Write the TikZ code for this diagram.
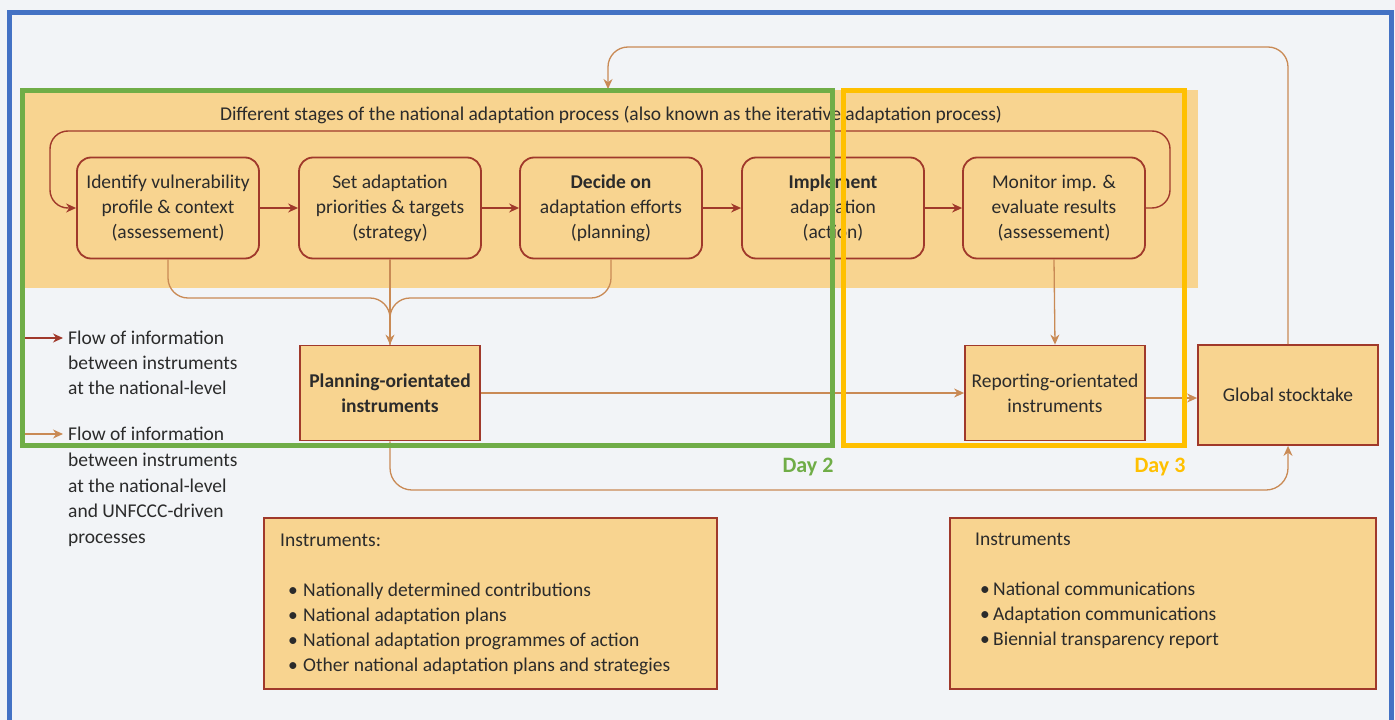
\documentclass[tikz,border=0pt]{standalone}
\usepackage{fontspec}
\setmainfont{Carlito}
\usetikzlibrary{arrows.meta}
\definecolor{bgc}{HTML}{F2F4F7}
\definecolor{band}{HTML}{F8D490}
\definecolor{dred}{HTML}{A0392B}
\definecolor{obr}{HTML}{C98A55}
\definecolor{grn}{HTML}{70AD47}
\definecolor{ylw}{HTML}{FFC000}
\definecolor{blu}{HTML}{4472C4}
\definecolor{txt}{HTML}{2B2B2B}
\newcommand{\fs}{\fontsize{19.5}{25}\selectfont}
\begin{document}
\begin{tikzpicture}[x=1pt,y=-1pt,
  stage/.style={draw=dred, line width=1.8pt, fill=band, rounded corners=14pt,
    minimum width=182pt, minimum height=101pt, align=center, font=\fs, text=txt, inner sep=0pt},
  instr/.style={draw=dred, line width=1.8pt, fill=band, align=center, font=\fs, text=txt, inner sep=0pt},
  redarr/.style={draw=dred, line width=1.4pt, -{Stealth[length=10pt,width=9pt]}},
  brarr/.style={draw=obr, line width=1.3pt, -{Stealth[length=10pt,width=9pt]}},
  brline/.style={draw=obr, line width=1.3pt},
  txtnode/.style={font=\fs, text=txt, align=left, inner sep=0pt, anchor=north west},
  daylab/.style={font=\fontsize{22}{25}\selectfont\bfseries, inner sep=0pt}
]
\useasboundingbox (0,0) rectangle (1395,720);
\fill[bgc] (0,0) rectangle (1395,720);
\draw[blu, line width=5pt] (9,12) rectangle (1391,740);

% orange band
\fill[band] (22,90) rectangle (1198,288);
\node[font=\fs, text=txt, inner sep=0pt] (title) at (611,115) {Different stages of the national adaptation process (also known as the iterative adaptation process)};

% stages
\node[stage] (b1) at (168,208) {Identify vulnerability\\profile \& context\\(assessement)};
\node[stage] (b2) at (390,208) {Set adaptation\\priorities \& targets\\(strategy)};
\node[stage] (b3) at (611,208) {\textbf{Decide on}\\adaptation efforts\\(planning)};
\node[stage] (b4) at (833,208) {\textbf{Implement}\\adaptation\\(action)};
\node[stage] (b5) at (1054,208) {Monitor imp. \&\\evaluate results\\(assessement)};

\draw[redarr] (b1) -- (b2);
\draw[redarr] (b2) -- (b3);
\draw[redarr] (b3) -- (b4);
\draw[redarr] (b4) -- (b5);
\coordinate (l1) at (1170,208);
\coordinate (l2) at (1170,131);
\coordinate (l3) at (50,131);
\coordinate (l4) at (50,208);
\draw[redarr, rounded corners=18pt] (b5.east) -- (l1) -- (l2) -- (l3) -- (l4) -- (b1.west);

% instruments boxes
\node[instr, minimum width=180pt, minimum height=95pt, font=\fs\bfseries] (plan) at (390,393) {Planning-orientated\\instruments};
\node[instr, minimum width=180pt, minimum height=95pt] (rep) at (1055,393) {Reporting-orientated\\instruments};
\node[instr, minimum width=180pt, minimum height=100pt] (glob) at (1288,395) {Global stocktake};

% flows into planning
\coordinate (m) at (390,298);
\draw[brline, rounded corners=20pt] (b1.south) |- (m) -- (plan.north);
\draw[brline, rounded corners=20pt] (b3.south) |- (m) -- (plan.north);
\draw[brarr] (b2.south) -- (plan.north);

\draw[brarr] (b5.south) -- (rep.north);
\draw[brarr] (plan.east) -- (plan.east -| rep.west);
\draw[brarr] (rep.east |- 0,398) -- (glob.west |- 0,398);

\coordinate (p1) at (390,490);
\coordinate (p2) at (1288,490);
\draw[brarr, rounded corners=22pt] (plan.south) -- (p1) -- (p2) -- (glob.south);

\coordinate (t1) at (1288,47);
\coordinate (t2) at (608,47);
\coordinate (gtop) at (608,89);
\draw[brarr, rounded corners=20pt] (glob.north) -- (t1) -- (t2) -- (gtop);

% legend
\coordinate (la1) at (22,338);
\coordinate (la2) at (63,338);
\coordinate (lb1) at (22,434);
\coordinate (lb2) at (63,434);
\draw[redarr, line width=1.1pt] (la1) -- (la2);
\draw[brarr, line width=1.1pt] (lb1) -- (lb2);
\node[txtnode, font=\fontsize{19.5}{25}\selectfont] (lega) at (68,331) {Flow of information\\between instruments\\at the national-level};
\node[txtnode, font=\fontsize{19.5}{25.7}\selectfont] (legb) at (68,427) {Flow of information\\between instruments\\at the national-level\\and UNFCCC-driven\\processes};

% day frames
\draw[grn, line width=5pt] (22,90) rectangle (832,445);
\draw[ylw, line width=5pt] (843,90) rectangle (1184,445);
\node[daylab, text=grn] (d2) at (808,467) {Day 2};
\node[daylab, text=ylw] (d3) at (1160,467) {Day 3};

% bottom instrument lists
\node[instr, minimum width=453pt, minimum height=171pt] (ilist) at (490.5,603.5) {};
\node[txtnode] (ilt) at (280,534) {Instruments:\\[25pt]
\hspace*{8pt}\makebox[15pt][l]{\textbullet}Nationally determined contributions\\
\hspace*{8pt}\makebox[15pt][l]{\textbullet}National adaptation plans\\
\hspace*{8pt}\makebox[15pt][l]{\textbullet}National adaptation programmes of action\\
\hspace*{8pt}\makebox[15pt][l]{\textbullet}Other national adaptation plans and strategies};

\node[instr, minimum width=426pt, minimum height=171pt] (rlist) at (1163,603.5) {};
\node[txtnode] (rlt) at (975,533) {Instruments\\[25pt]
\hspace*{5pt}\makebox[13pt][l]{\textbullet}National communications\\
\hspace*{5pt}\makebox[13pt][l]{\textbullet}Adaptation communications\\
\hspace*{5pt}\makebox[13pt][l]{\textbullet}Biennial transparency report};
\end{tikzpicture}
\end{document}
